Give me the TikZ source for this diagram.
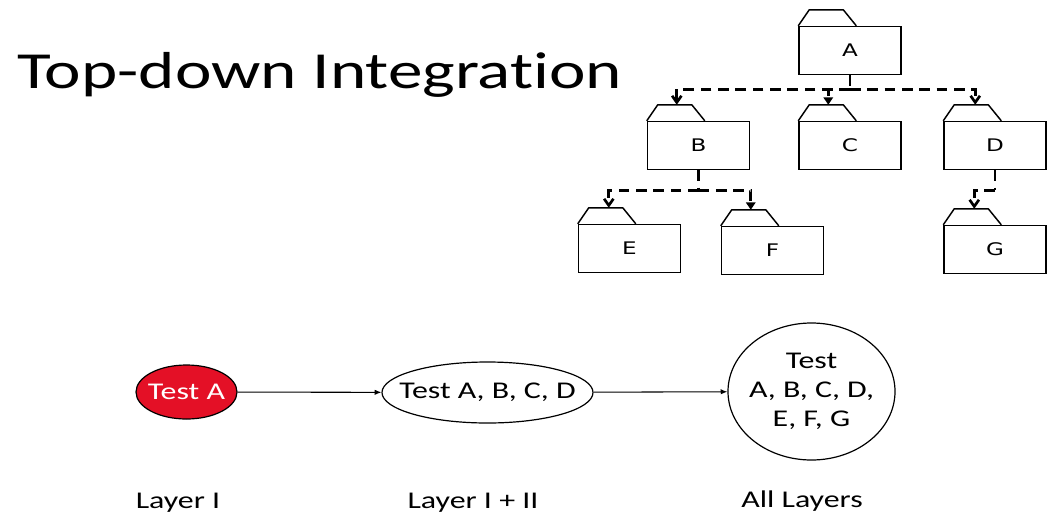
\documentclass[tikz,border=0pt]{standalone}
\usepackage{fontspec}
\newfontfamily\slidefont[FakeStretch=1.33,Ligatures={NoCommon}]{Carlito}
\newfontfamily\boxfont[FakeStretch=1.33]{DejaVu Sans}
\usetikzlibrary{arrows.meta,shapes.geometric,calc}
\definecolor{testred}{RGB}{228,16,38}
\tikzset{
  folder/.style={draw, line width=1.1pt, minimum width=76.5pt, minimum height=36pt,
    inner sep=0pt, font=\boxfont\fontsize{13}{15}\selectfont},
  tabline/.style={line width=1.1pt, line join=round},
  dep/.style={line width=2pt, dash pattern=on 8pt off 5pt},
  openhead/.style={-{Straight Barb[length=5pt,width=7pt]}},
  filledhead/.style={-{Triangle[length=5.5pt,width=7pt]}},
  flow/.style={line width=0.8pt, -{Latex[length=5pt,width=4pt]}},
  stage/.style={draw, ellipse, line width=0.9pt, inner sep=0pt},
  stagetext/.style={font=\slidefont\fontsize{18}{21.75}\selectfont, inner sep=0pt, align=center},
  caption/.style={font=\slidefont\fontsize{18}{21.75}\selectfont, inner sep=0pt, anchor=base},
}
\begin{document}
\begin{tikzpicture}[x=0.75pt, y=-0.75pt]
\useasboundingbox (0,0) rectangle (1056,515);

% title
\node[font=\slidefont\fontsize{39}{45}\selectfont, anchor=base west, inner sep=0pt]
  (title) at (17,88) {Top-down Integration};

% module hierarchy
\node[folder] (A) at (850,50.5)  {A};
\node[folder] (B) at (698.5,145.5) {B};
\node[folder] (C) at (850,145.5) {C};
\node[folder] (D) at (995,145.5) {D};
\node[folder] (E) at (629.5,248.5) {E};
\node[folder] (F) at (772.5,250.5) {F};
\node[folder] (G) at (995,249.5) {G};

% folder tabs
\foreach \n in {A,B,C,D,E,F,G}
  \draw[tabline] (\n.north west) -- ++(11,-16) -- ++(34,0) -- ++(13,16);

% tab tops and junctions
\coordinate (Bt) at ($(B.north west)+(30,-16)$);
\coordinate (Ct) at ($(C.north west)+(30,-16)$);
\coordinate (Dt) at ($(D.north west)+(32,-16)$);
\coordinate (Et) at ($(E.north west)+(31,-16)$);
\coordinate (Ft) at ($(F.north west)+(30,-16)$);
\coordinate (Gt) at ($(G.north west)+(31,-16)$);
\coordinate (jA) at ($(A.south)+(0,14)$);
\coordinate (jB) at ($(B.south)+(0,20)$);
\coordinate (jD) at ($(D.south)+(0,20)$);

% dependencies
\draw[dep] (A.south) -- (jA);
\draw[dep,openhead]   (jA) -| (Bt);
\draw[dep,filledhead] (jA) -| (Ct);
\draw[dep,openhead]   (jA) -| (Dt);
\draw[dep] (B.south) -- (jB);
\draw[dep,openhead]   (jB) -| (Et);
\draw[dep,filledhead] (jB) -| (Ft);
\draw[dep] (D.south) -- (jD);
\draw[dep,openhead]   (jD) -| (Gt);

% test stages
\node[stage, fill=testred, minimum width=75.75pt, minimum height=40.5pt] (s1) at (186.5,392) {};
\node[stagetext, text=white] (s1t) at (s1) {Test A};
\node[stage, minimum width=158.25pt, minimum height=45.75pt] (s2) at (487.5,392.5) {};
\node[stagetext] (s2t) at (s2) {Test A, B, C, D};
\node[stage, minimum width=125.25pt, minimum height=102.75pt] (s3) at (811.5,391.5) {};
\node[stagetext] (s3t) at (s3) {Test\\A, B, C, D,\\E, F, G};

\draw[flow] (s1) -- (s2);
\draw[flow] (s2) -- (s3);

% layer captions
\node[caption] (l1) at (178,508) {Layer I};
\node[caption] (l2) at (473,508) {Layer I + II};
\node[caption] (l3) at (802,507) {All Layers};
\end{tikzpicture}
\end{document}
